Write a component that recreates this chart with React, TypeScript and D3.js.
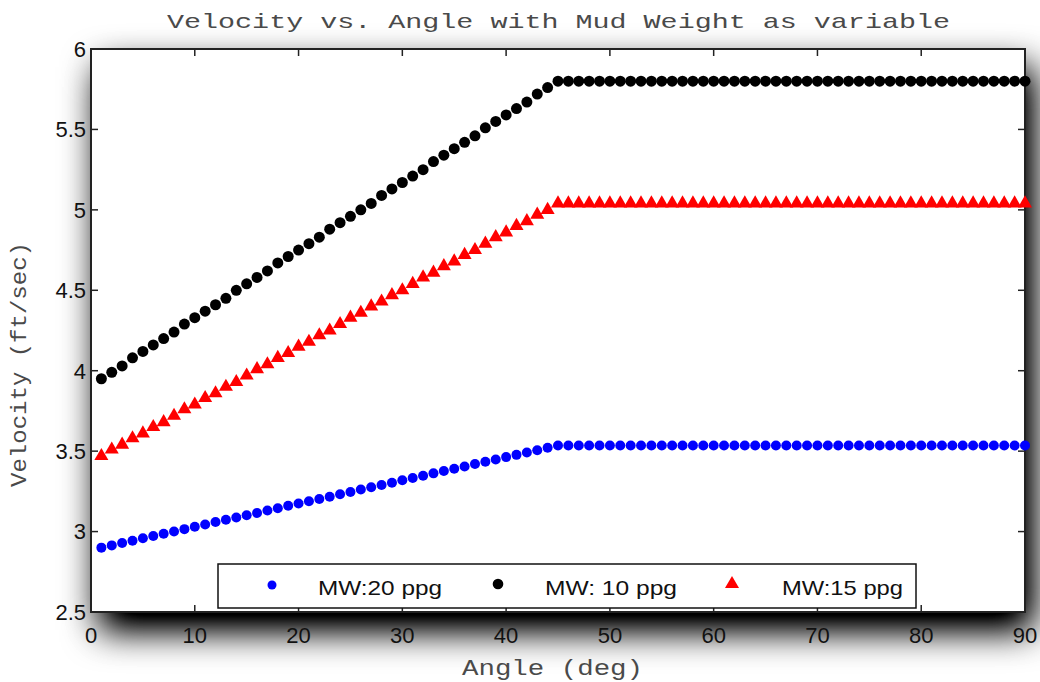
import React, { useEffect, useRef } from "react";
import * as d3 from "d3";

const angles = [
  1, 2, 3, 4, 5, 6, 7, 8, 9, 10, 11, 12, 13, 14, 15, 16, 17, 18, 19, 20,
  21, 22, 23, 24, 25, 26, 27, 28, 29, 30, 31, 32, 33, 34, 35, 36, 37, 38, 39, 40,
  41, 42, 43, 44, 45, 46, 47, 48, 49, 50, 51, 52, 53, 54, 55, 56, 57, 58, 59, 60,
  61, 62, 63, 64, 65, 66, 67, 68, 69, 70, 71, 72, 73, 74, 75, 76, 77, 78, 79, 80,
  81, 82, 83, 84, 85, 86, 87, 88, 89, 90,
];

const mw20 = [
  2.9, 2.914, 2.929, 2.943, 2.958, 2.972, 2.987, 3.001, 3.015, 3.03,
  3.044, 3.059, 3.073, 3.088, 3.102, 3.116, 3.131, 3.145, 3.16, 3.174,
  3.189, 3.203, 3.217, 3.232, 3.246, 3.261, 3.275, 3.29, 3.304, 3.319,
  3.333, 3.347, 3.362, 3.376, 3.391, 3.405, 3.42, 3.434, 3.448, 3.463,
  3.477, 3.492, 3.506, 3.521, 3.535, 3.535, 3.535, 3.535, 3.535, 3.535,
  3.535, 3.535, 3.535, 3.535, 3.535, 3.535, 3.535, 3.535, 3.535, 3.535,
  3.535, 3.535, 3.535, 3.535, 3.535, 3.535, 3.535, 3.535, 3.535, 3.535,
  3.535, 3.535, 3.535, 3.535, 3.535, 3.535, 3.535, 3.535, 3.535, 3.535,
  3.535, 3.535, 3.535, 3.535, 3.535, 3.535, 3.535, 3.535, 3.535, 3.535,
];

const mw10 = [
  3.95, 3.99, 4.03, 4.08, 4.12, 4.16, 4.2, 4.24, 4.29, 4.33,
  4.37, 4.41, 4.45, 4.5, 4.54, 4.58, 4.62, 4.67, 4.71, 4.75,
  4.79, 4.83, 4.88, 4.92, 4.96, 5.0, 5.04, 5.09, 5.13, 5.17,
  5.21, 5.25, 5.3, 5.34, 5.38, 5.42, 5.46, 5.51, 5.55, 5.59,
  5.63, 5.67, 5.72, 5.76, 5.8, 5.8, 5.8, 5.8, 5.8, 5.8,
  5.8, 5.8, 5.8, 5.8, 5.8, 5.8, 5.8, 5.8, 5.8, 5.8,
  5.8, 5.8, 5.8, 5.8, 5.8, 5.8, 5.8, 5.8, 5.8, 5.8,
  5.8, 5.8, 5.8, 5.8, 5.8, 5.8, 5.8, 5.8, 5.8, 5.8,
  5.8, 5.8, 5.8, 5.8, 5.8, 5.8, 5.8, 5.8, 5.8, 5.8,
];

const mw15 = [
  3.47, 3.51, 3.54, 3.58, 3.61, 3.65, 3.68, 3.72, 3.76, 3.79,
  3.83, 3.86, 3.9, 3.93, 3.97, 4.01, 4.04, 4.08, 4.11, 4.15,
  4.18, 4.22, 4.25, 4.29, 4.33, 4.36, 4.4, 4.43, 4.47, 4.5,
  4.54, 4.58, 4.61, 4.65, 4.68, 4.72, 4.75, 4.79, 4.83, 4.86,
  4.9, 4.93, 4.97, 5.0, 5.04, 5.04, 5.04, 5.04, 5.04, 5.04,
  5.04, 5.04, 5.04, 5.04, 5.04, 5.04, 5.04, 5.04, 5.04, 5.04,
  5.04, 5.04, 5.04, 5.04, 5.04, 5.04, 5.04, 5.04, 5.04, 5.04,
  5.04, 5.04, 5.04, 5.04, 5.04, 5.04, 5.04, 5.04, 5.04, 5.04,
  5.04, 5.04, 5.04, 5.04, 5.04, 5.04, 5.04, 5.04, 5.04, 5.04,
];

const xTicks = [0, 10, 20, 30, 40, 50, 60, 70, 80, 90];
const yTicks = [2.5, 3, 3.5, 4, 4.5, 5, 5.5, 6];
const yTickLabels = ["2.5", "3", "3.5", "4", "4.5", "5", "5.5", "6"];

const legendLabels = ["MW:20 ppg", "MW: 10 ppg", "MW:15 ppg"];

const W = 1040;
const H = 682;
const L = 91, R = 1025, T = 49, B = 612;

export default function App() {
  const ref = useRef<SVGSVGElement | null>(null);

  useEffect(() => {
    document.body.style.margin = "0";
    const svg = d3.select(ref.current);
    svg.selectAll("*").remove();

    const x = d3.scaleLinear().domain([0, 90]).range([L, R]);
    const y = d3.scaleLinear().domain([2.5, 6]).range([B, T]);

    const defs = svg.append("defs");
    const f = defs.append("filter").attr("id", "shadow")
      .attr("x", "-15%").attr("y", "-25%").attr("width", "135%").attr("height", "160%");
    f.append("feGaussianBlur").attr("in", "SourceAlpha").attr("stdDeviation", 18).attr("result", "blur");
    f.append("feOffset").attr("in", "blur").attr("dx", 8).attr("dy", 18).attr("result", "off");
    f.append("feComponentTransfer").attr("in", "off").attr("result", "shade")
      .append("feFuncA").attr("type", "linear").attr("slope", 1.25);
    const merge = f.append("feMerge");
    merge.append("feMergeNode").attr("in", "shade");
    merge.append("feMergeNode").attr("in", "SourceGraphic");

    svg.append("rect").attr("width", W).attr("height", H).attr("fill", "#fff");

    // plot box with shadow
    svg.append("rect")
      .attr("x", L).attr("y", T).attr("width", R - L).attr("height", B - T)
      .attr("fill", "#fff").attr("filter", "url(#shadow)");

    const mono = "'Liberation Mono', 'Courier New', monospace";
    svg.append("text")
      .attr("x", (167 + 950) / 2).attr("y", 28)
      .attr("text-anchor", "middle")
      .attr("font-family", mono)
      .attr("font-size", 21).attr("fill", "#4a4a4a")
      .attr("textLength", 783).attr("lengthAdjust", "spacingAndGlyphs")
      .text("Velocity vs. Angle with Mud Weight as variable");

    svg.append("text")
      .attr("x", (462 + 643) / 2).attr("y", 675)
      .attr("text-anchor", "middle")
      .attr("font-family", mono)
      .attr("font-size", 22).attr("fill", "#4a4a4a")
      .attr("textLength", 181).attr("lengthAdjust", "spacingAndGlyphs")
      .text("Angle (deg)");

    svg.append("text")
      .attr("transform", `translate(26, ${(242 + 487) / 2}) rotate(-90)`)
      .attr("text-anchor", "middle")
      .attr("font-family", mono)
      .attr("font-size", 22).attr("fill", "#4a4a4a")
      .attr("textLength", 245).attr("lengthAdjust", "spacingAndGlyphs")
      .text("Velocity (ft/sec)");

    const tickFont = "'Liberation Sans', Arial, sans-serif";
    const tl = 7;
    const g = svg.append("g");
    xTicks.forEach((t) => {
      g.append("line").attr("x1", x(t)).attr("x2", x(t)).attr("y1", B).attr("y2", B - tl)
        .attr("stroke", "#222").attr("stroke-width", 1.5);
      g.append("line").attr("x1", x(t)).attr("x2", x(t)).attr("y1", T).attr("y2", T + tl)
        .attr("stroke", "#222").attr("stroke-width", 1.5);
      g.append("text").attr("x", x(t)).attr("y", 643)
        .attr("text-anchor", "middle").attr("font-family", tickFont)
        .attr("font-size", 22).attr("fill", "#111").text(String(t));
    });
    yTicks.forEach((t, i) => {
      g.append("line").attr("x1", L).attr("x2", L + tl).attr("y1", y(t)).attr("y2", y(t))
        .attr("stroke", "#222").attr("stroke-width", 1.5);
      g.append("line").attr("x1", R).attr("x2", R - tl).attr("y1", y(t)).attr("y2", y(t))
        .attr("stroke", "#222").attr("stroke-width", 1.5);
      g.append("text").attr("x", 86).attr("y", y(t)).attr("dy", "0.36em")
        .attr("text-anchor", "end").attr("font-family", tickFont)
        .attr("font-size", 22).attr("fill", "#111").text(yTickLabels[i]);
    });

    svg.append("rect")
      .attr("x", L).attr("y", T).attr("width", R - L).attr("height", B - T)
      .attr("fill", "none").attr("stroke", "#222").attr("stroke-width", 2);

    const tri = d3.symbol().type(d3.symbolTriangle).size(85);
    svg.append("g").selectAll("circle").data(angles).join("circle")
      .attr("cx", (d) => x(d)).attr("cy", (_d, i) => y(mw20[i]))
      .attr("r", 5).attr("fill", "#0000ff");
    svg.append("g").selectAll("circle").data(angles).join("circle")
      .attr("cx", (d) => x(d)).attr("cy", (_d, i) => y(mw10[i]))
      .attr("r", 5.5).attr("fill", "#000");
    svg.append("g").selectAll("path").data(angles).join("path")
      .attr("d", tri as any)
      .attr("transform", (d, i) => `translate(${x(d)},${y(mw15[i])})`)
      .attr("fill", "#ff0000");

    const lg = svg.append("g");
    lg.append("rect").attr("x", 218).attr("y", 564).attr("width", 698).attr("height", 44)
      .attr("fill", "#fff").attr("stroke", "#111").attr("stroke-width", 1.5);
    const lf = "'Liberation Sans', Arial, sans-serif";
    lg.append("circle").attr("cx", 272).attr("cy", 585).attr("r", 4.5).attr("fill", "#0000ff");
    lg.append("circle").attr("cx", 498).attr("cy", 584).attr("r", 5.3).attr("fill", "#000");
    lg.append("path").attr("d", tri as any).attr("transform", "translate(732,584)").attr("fill", "#ff0000");
    const lx = [318, 545, 782];
    const lw = [124, 132, 121];
    legendLabels.forEach((s, i) => {
      lg.append("text").attr("x", lx[i]).attr("y", 595)
        .attr("font-family", lf).attr("font-size", 21).attr("fill", "#111")
        .attr("textLength", lw[i]).attr("lengthAdjust", "spacingAndGlyphs")
        .text(s);
    });
  }, []);

  return <svg ref={ref} width={W} height={H} style={{ display: "block" }} />;
}
